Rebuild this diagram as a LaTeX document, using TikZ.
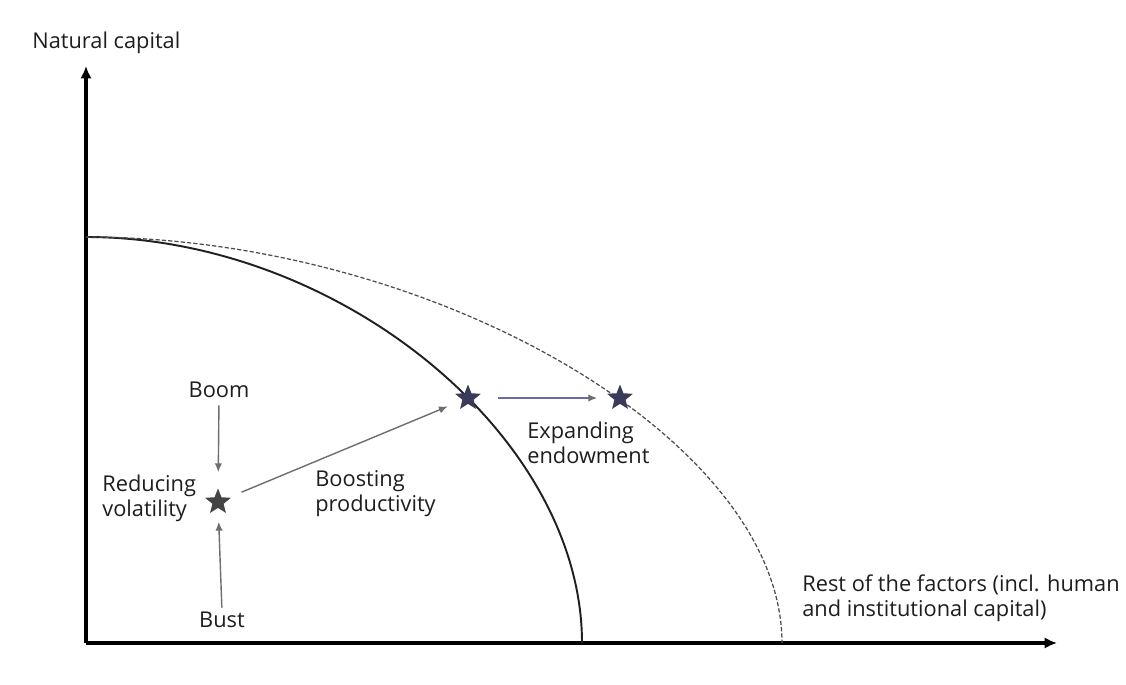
\documentclass[tikz,border=0pt]{standalone}
\usepackage{fontspec}
\setmainfont{Open Sans}
\usetikzlibrary{arrows.meta,shapes.geometric}
\definecolor{txt}{HTML}{1E1E1E}
\definecolor{arrgray}{HTML}{6E6E6E}
\definecolor{arrblue}{HTML}{6A6AA6}
\definecolor{stargray}{HTML}{444444}
\definecolor{starnavy}{HTML}{3A3A5A}
\definecolor{curve}{HTML}{202020}
\tikzset{
  lbl/.style={text=txt, inner sep=0pt, font=\fontsize{12.4}{14.2}\selectfont},
  axis/.style={line width=2.3pt, black, -{Latex[length=7pt,width=6.4pt]}},
  thinarr/.style={line width=0.8pt, arrgray, -{Latex[length=5pt,width=4.2pt]}},
  starnode/.style={star, star points=5, star point ratio=2.3, minimum size=0.54cm, inner sep=0pt, draw=none},
  ppf/.style={line width=1.1pt, curve},
  ppfdash/.style={line width=0.7pt, curve!80, dash pattern=on 2.4pt off 1.2pt}
}
\begin{document}
\begin{tikzpicture}[x=0.02cm,y=-0.02cm]
\useasboundingbox (0,0) rectangle (1126,685);
\fill[white] (0,0) rectangle (1126,685);
% axes
\coordinate (O) at (86,643);
\coordinate (ytip) at (86,66);
\coordinate (xtip) at (1057,643);
\coordinate (top) at (86,237);
\coordinate (solidend) at (582,643);
\coordinate (dashend) at (782,643);
\draw[axis] (O) -- (ytip);
\draw[axis] (O) -- (xtip);
% frontiers
\draw[ppf] (top) .. controls (339,237) and (582,436) .. (solidend);
\draw[ppfdash] (top) .. controls (434,237) and (782,440) .. (dashend);
% labels
\node[lbl, anchor=west] (ylab) at (32,43) {Natural capital};
\node[lbl] (boom) at (219,390) {Boom};
\node[lbl] (bust) at (222,620) {Bust};
\node[lbl, align=left, anchor=west] (reduce) at (102,498) {Reducing\\volatility};
\node[lbl, align=left, anchor=west] (boost) at (315,494) {Boosting\\productivity};
\node[lbl, align=left, anchor=west] (expand) at (527,443) {Expanding\\endowment};
\node[lbl, align=left, anchor=west] (xlab) at (802,598) {Rest of the factors (incl. human\\and institutional capital)};
% stars
\node[starnode, fill=stargray] (s1) at (218,502) {};
\node[starnode, fill=starnavy] (s2) at (468,398) {};
\node[starnode, fill=starnavy] (s3) at (620,398) {};
% connectors
\draw[thinarr, shorten <=4pt, shorten >=17pt] (boom.south) -- (s1.center);
\draw[thinarr, shorten <=2.3pt, shorten >=11.3pt] (bust.north) -- (s1.center);
\draw[thinarr, shorten <=14.5pt, shorten >=12.5pt] (s1.center) -- (s2.center);
\draw[line width=0.8pt, arrblue, -{Latex[length=5pt,width=4.2pt,color=arrgray]}, shorten <=17pt, shorten >=13pt] (s2.center) -- (s3.center);
\end{tikzpicture}
\end{document}
